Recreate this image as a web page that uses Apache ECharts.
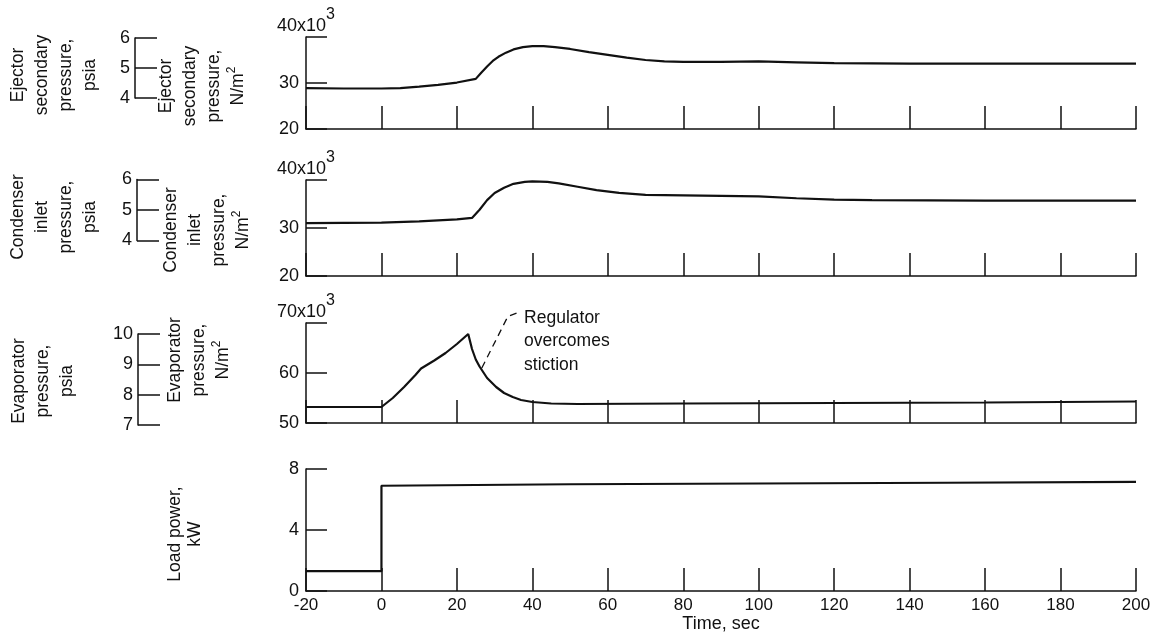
<!DOCTYPE html>
<html><head><meta charset="utf-8">
<script src="https://cdn.jsdelivr.net/npm/echarts@6/dist/echarts.min.js"></script>
<style>html,body{margin:0;padding:0;background:#fff}#c{width:1158px;height:635px}</style>
</head><body><div id="c"></div>
<script>
// ---- data (time in s, pressures in N/m^2 x10^3, power in kW) ----
const ejectorTime = [-20,-10,0,5,10,15,20,25,26.5,28,29.5,31,33,35,37.5,40,43,46,50,55,60,65,70,75,80,90,100,110,120,140,160,180,200];
const ejectorPressure = [28.9,28.8,28.8,28.9,29.2,29.6,30.1,30.9,32.3,33.6,34.8,35.7,36.6,37.3,37.8,38.0,38.0,37.8,37.4,36.7,36.1,35.5,35.0,34.7,34.6,34.6,34.7,34.5,34.3,34.2,34.2,34.2,34.2];
const condenserTime = [-20,0,10,20,24,26,28,30,32.5,35,38,40,44,47,52,57,63,70,80,90,100,110,120,130,160,200];
const condenserPressure = [31.0,31.1,31.4,31.8,32.1,33.8,35.8,37.3,38.4,39.2,39.6,39.7,39.6,39.3,38.6,37.9,37.3,36.9,36.8,36.7,36.6,36.2,35.9,35.8,35.7,35.7];
const evapTime = [-20,0,3,6,9,10.5,14,17,20,23,24,25,26,28,30.4,32.5,34.8,37,40,45,52,80,120,160,200];
const evapPressure = [53.2,53.2,55.0,57.2,59.6,60.9,62.5,64.0,65.8,67.8,64.8,62.7,61.3,59.0,57.2,56.0,55.2,54.6,54.2,53.9,53.8,53.9,54.0,54.1,54.3];
const loadTime = [-20,0,0,50,100,150,200];
const loadPower = [1.3,1.3,6.9,7.0,7.05,7.1,7.15];
const timeTicks = {min:-20, max:200, step:20};
const yTop = [40, 40, 70];

const NUM = '"Liberation Sans",Arial,sans-serif';
const TXT = '"Liberation Sans",Arial,sans-serif';
const K = '#111';

const chart = echarts.init(document.getElementById('c'), null, {renderer:'canvas'});
const pairs = (t, v) => t.map((x, i) => [x, v[i]]);

const mainGrids = [
  {left:306, top:37, width:830, height:92},
  {left:306, top:180, width:830, height:96},
  {left:306, top:323, width:830, height:100},
  {left:306, top:469, width:830, height:122}
];
const insetGrids = [
  {left:135, top:38, width:22, height:60},
  {left:137, top:179.5, width:22, height:61},
  {left:138, top:334, width:22, height:91}
];

function xAx(i, withLabels) {
  return {
    type:'value', gridIndex:i, min:timeTicks.min, max:timeTicks.max, interval:timeTicks.step,
    axisLine:{show:true, onZero:false, lineStyle:{color:K, width:1.5}},
    axisTick:{show:true, inside:true, length:23, lineStyle:{color:K, width:1.5}},
    splitLine:{show:false},
    axisLabel:{show:withLabels, color:K, fontFamily:NUM, fontSize:17, margin:6},
    name: withLabels ? 'Time, sec' : '', nameLocation:'middle', nameGap:24,
    nameTextStyle:{color:K, fontFamily:TXT, fontSize:18}
  };
}
function hiddenX(i) { return {type:'value', gridIndex:i, min:0, max:1, show:false}; }

function yAx(i, min, max, step, topName) {
  return {
    type:'value', gridIndex:i, min:min, max:max, interval:step,
    axisLine:{show:true, onZero:false, lineStyle:{color:K, width:1.5}},
    axisTick:{show:true, inside:true, length:21, lineStyle:{color:K, width:1.5}},
    splitLine:{show:false},
    axisLabel:{color:K, fontFamily:NUM, fontSize:18, margin:7,
      formatter: v => (topName && v === max) ? '' : String(v)},
    name: topName ? '{a|' + topName + '}{s|3}' : '',
    nameLocation:'end', nameGap:2,
    nameTextStyle:{align:'center', rich:{
      a:{fontFamily:NUM, fontSize:18, lineHeight:28, color:K, verticalAlign:'bottom'},
      s:{fontFamily:NUM, fontSize:16, lineHeight:16, color:K, verticalAlign:'top'}
    }}
  };
}
function insetY(i, min, max) {
  return {
    type:'value', gridIndex:i, min:min, max:max, interval:1,
    axisLine:{show:true, onZero:false, lineStyle:{color:K, width:1.5}},
    axisTick:{show:true, inside:true, length:22, lineStyle:{color:K, width:1.5}},
    splitLine:{show:false},
    axisLabel:{color:K, fontFamily:NUM, fontSize:18, margin:5}
  };
}

function lineSeries(i, data) {
  return {type:'line', xAxisIndex:i, yAxisIndex:i, data:data, showSymbol:false, symbol:'none',
    lineStyle:{color:K, width:2.2}, animation:false, silent:true};
}

function rotLabel(x, y, text, lh) {
  return {type:'text', x:x, y:y, rotation:Math.PI/2, silent:true,
    style:{text:text, fill:K, fontFamily:TXT, fontSize:17.5, lineHeight:lh || 24,
      align:'center', verticalAlign:'middle', textAlign:'center', textVerticalAlign:'middle',
      rich:{
        n:{fontFamily:TXT, fontSize:17.5, lineHeight:lh || 24, fill:K, color:K},
        s:{fontFamily:TXT, fontSize:12, lineHeight:12, fill:K, color:K, verticalAlign:'top'}
      }}};
}

const option = {
  backgroundColor:'#fff',
  animation:false,
  grid: mainGrids.concat(insetGrids),
  xAxis: [xAx(0,false), xAx(1,false), xAx(2,false), xAx(3,true), hiddenX(4), hiddenX(5), hiddenX(6)],
  yAxis: [
    yAx(0, 20, yTop[0], 10, '40x10'),
    yAx(1, 20, yTop[1], 10, '40x10'),
    yAx(2, 50, yTop[2], 10, '70x10'),
    yAx(3, 0, 8, 4, null),
    insetY(4, 4, 6), insetY(5, 4, 6), insetY(6, 7, 10)
  ],
  series: [
    lineSeries(0, pairs(ejectorTime, ejectorPressure)),
    lineSeries(1, pairs(condenserTime, condenserPressure)),
    lineSeries(2, pairs(evapTime, evapPressure)),
    lineSeries(3, pairs(loadTime, loadPower))
  ],
  graphic: [
    rotLabel(54, 75, 'Ejector\nsecondary\npressure,\npsia'),
    rotLabel(202, 86, 'Ejector\nsecondary\npressure,\n{n|N/m}{s|2}'),
    rotLabel(54, 217, 'Condenser\ninlet\npressure,\npsia'),
    rotLabel(207, 230, 'Condenser\ninlet\npressure,\n{n|N/m}{s|2}'),
    rotLabel(43, 381, 'Evaporator\npressure,\npsia'),
    rotLabel(199, 360, 'Evaporator\npressure,\n{n|N/m}{s|2}'),
    rotLabel(185, 534, 'Load power,\nkW', 20)
  ]
};
chart.setOption(option);

// annotation placed through the evaporator panel's scales
const P = (t, v) => chart.convertToPixel({gridIndex:2}, [t, v]);
const a0 = P(26.6, 61.0), a1 = P(33.5, 71.3), a2 = P(36.3, 72.1), tp = P(37.8, 66.3);
chart.setOption({graphic: option.graphic.concat([
  {type:'polyline', silent:true, shape:{points:[a0, a1, a2]},
   style:{stroke:K, lineWidth:1.3, lineDash:[7,5], fill:null}},
  {type:'text', x:tp[0], y:tp[1], silent:true,
   style:{text:'Regulator\novercomes\nstiction', fill:K, fontFamily:TXT, fontSize:17.5, lineHeight:23.5,
     align:'left', verticalAlign:'middle', textAlign:'left', textVerticalAlign:'middle'}}
])});
</script>
</body></html>
